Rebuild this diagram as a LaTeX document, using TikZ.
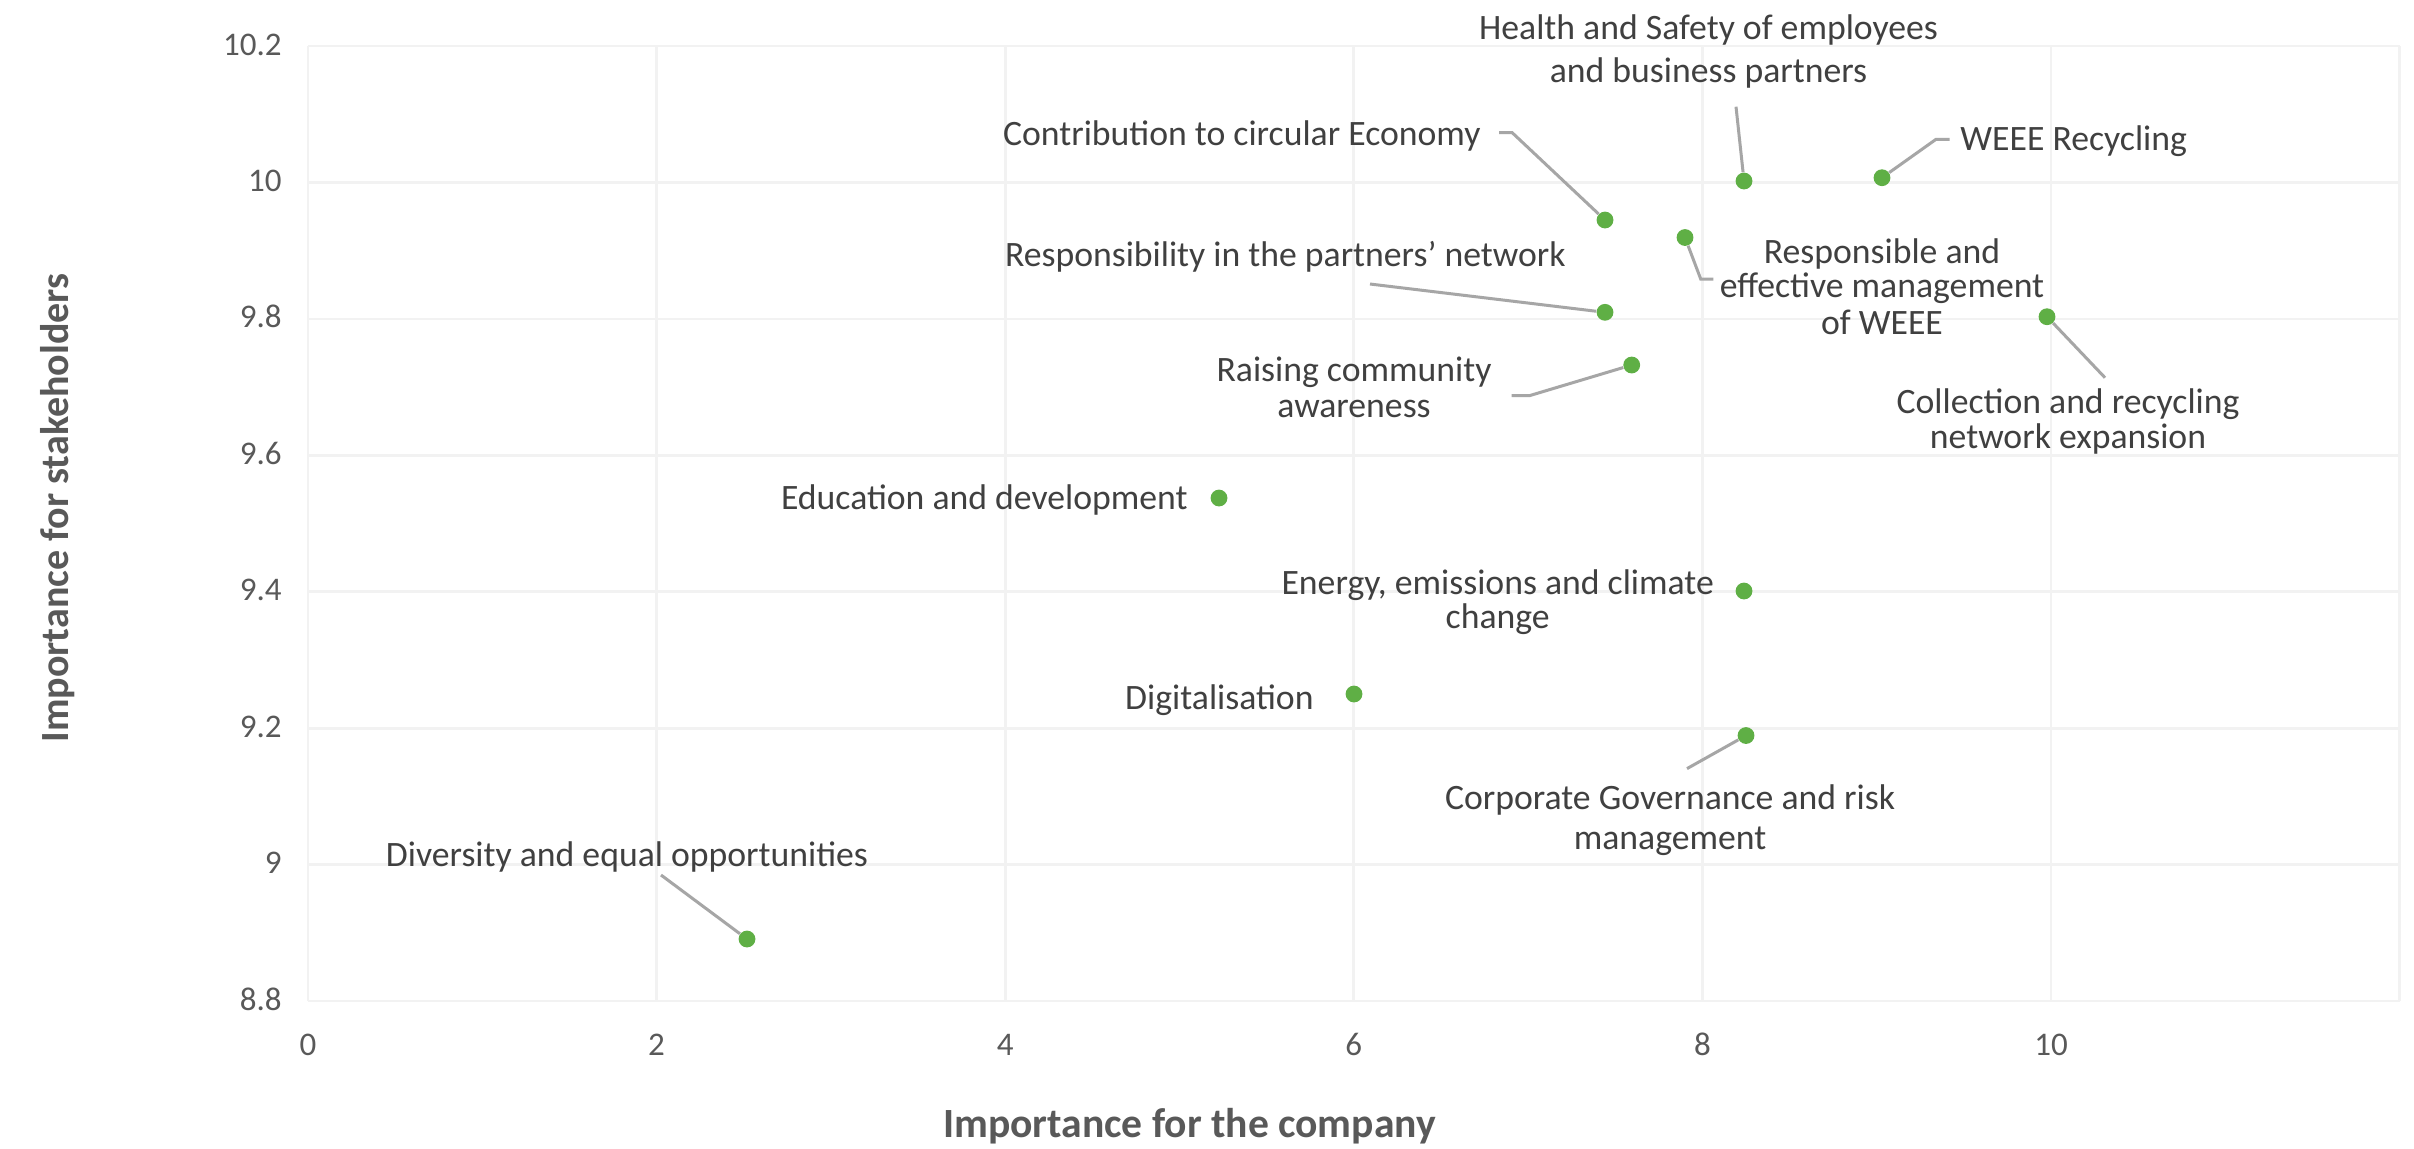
\documentclass[tikz,border=0pt]{standalone}
\usepackage{fontspec}
\setmainfont{Carlito}
\definecolor{gridc}{HTML}{F2F2F2}
\definecolor{leadc}{HTML}{A6A6A6}
\definecolor{dotc}{RGB}{95,175,69}
\definecolor{lblc}{HTML}{404040}
\definecolor{tickc}{HTML}{595959}
\begin{document}
\begin{tikzpicture}[x=0.5pt,y=-0.5pt,
  gridline/.style={draw=gridc,line width=1.35pt},
  leader/.style={draw=leadc,line width=1.5pt},
  dotnode/.style={circle,fill=dotc,inner sep=0pt,minimum size=8.4pt},
  lab/.style={text=lblc,font=\fontsize{17.85}{21}\selectfont,inner sep=0pt,anchor=base},
  ticklab/.style={text=tickc,font=\fontsize{16.5}{20}\selectfont,inner sep=0pt,anchor=base},
  axtitle/.style={text=tickc,font=\bfseries\fontsize{20.8}{25}\selectfont,inner sep=0pt,anchor=base}]
\useasboundingbox[fill=white] (0,0) rectangle (2414,1148);
% grid
\foreach \k in {0,...,6} \draw[gridline] ({308+348.6*\k},46) -- ({308+348.6*\k},1001);
\foreach \k in {0,...,7} \draw[gridline] (308,{46+136.43*\k}) -- (2400,{46+136.43*\k});
% x tick labels
\foreach \v [count=\k from 0] in {0,2,4,6,8,10}
  \node[ticklab] (xt\k) at ({308+348.6*\k},1055) {\v};
% y tick labels
\foreach \v [count=\k from 0] in {10.2,10,9.8,9.6,9.4,9.2,9,8.8}
  \node[ticklab,anchor=base east] (yt\k) at (282,{55+136.43*\k}) {\v};
% axis titles
\node[axtitle] (xtitle) at (1189.5,1137) {Importance for the company};
\node[axtitle,rotate=90,font=\bfseries\fontsize{20}{24}\selectfont] (ytitle) at (68,508) {Importance for stakeholders};
% data points
\node[dotnode] (pHealth) at (1744,181) {};
\node[dotnode] (pWeee) at (1882,177.7) {};
\node[dotnode] (pContr) at (1605,220) {};
\node[dotnode] (pResp) at (1685,237.5) {};
\node[dotnode] (pPartn) at (1605,312.3) {};
\node[dotnode] (pColl) at (2047,316.7) {};
\node[dotnode] (pRais) at (1631.7,365) {};
\node[dotnode] (pEdu) at (1219,498) {};
\node[dotnode] (pEnergy) at (1744,591) {};
\node[dotnode] (pDigi) at (1354,694) {};
\node[dotnode] (pCorp) at (1746,735.5) {};
\node[dotnode] (pDiv) at (747,939) {};
% leader coordinates
\coordinate (eHealth) at (1736,106.7);
\coordinate (kWeee) at (1936,139.3);
\coordinate (eWeee) at (1949.5,139.3);
\coordinate (kContr) at (1512,132.5);
\coordinate (eContr) at (1499,132.5);
\coordinate (kResp) at (1700.7,279);
\coordinate (eResp) at (1713.3,279);
\coordinate (ePartn) at (1370,284);
\coordinate (eColl) at (2105,377.7);
\coordinate (kRais) at (1529.3,395.7);
\coordinate (eRais) at (1511.7,395.7);
\coordinate (eCorp) at (1687,768.6);
\coordinate (eDiv) at (661,875);
% leaders
\draw[leader] (pHealth) -- (eHealth);
\draw[leader] (pWeee) -- (kWeee) -- (eWeee);
\draw[leader] (pContr) -- (kContr) -- (eContr);
\draw[leader] (pResp) -- (kResp) -- (eResp);
\draw[leader] (pPartn) -- (ePartn);
\draw[leader] (pColl) -- (eColl);
\draw[leader] (pRais) -- (kRais) -- (eRais);
\draw[leader] (pCorp) -- (eCorp);
\draw[leader] (pDiv) -- (eDiv);
% labels
\node[lab] (lHealthA) at (1708.5,39) {Health and Safety of employees};
\node[lab] (lHealthB) at (1708.5,82) {and business partners};
\node[lab,anchor=base east] (lContr) at (1481,145) {Contribution to circular Economy};
\node[lab,anchor=base west] (lWeee) at (1960,150) {WEEE Recycling};
\node[lab] (lRespA) at (1882,263) {Responsible and};
\node[lab] (lRespB) at (1882,297.5) {effective management};
\node[lab] (lRespC) at (1882,334) {of WEEE};
\node[lab,anchor=base east] (lPartn) at (1566,266) {Responsibility in the partners’ network};
\node[lab] (lRaisA) at (1354,381.7) {Raising community};
\node[lab] (lRaisB) at (1354,417.3) {awareness};
\node[lab] (lCollA) at (2068,413) {Collection and recycling};
\node[lab] (lCollB) at (2068,448.5) {network expansion};
\node[lab,anchor=base east] (lEdu) at (1188,509) {Education and development};
\node[lab] (lEnergyA) at (1497.7,594) {Energy, emissions and climate};
\node[lab] (lEnergyB) at (1497.7,628) {change};
\node[lab,anchor=base east] (lDigi) at (1314,709.5) {Digitalisation};
\node[lab] (lCorpA) at (1670,809) {Corporate Governance and risk};
\node[lab] (lCorpB) at (1670,849.5) {management};
\node[lab] (lDiv) at (627,866) {Diversity and equal opportunities};
\end{tikzpicture}
\end{document}
